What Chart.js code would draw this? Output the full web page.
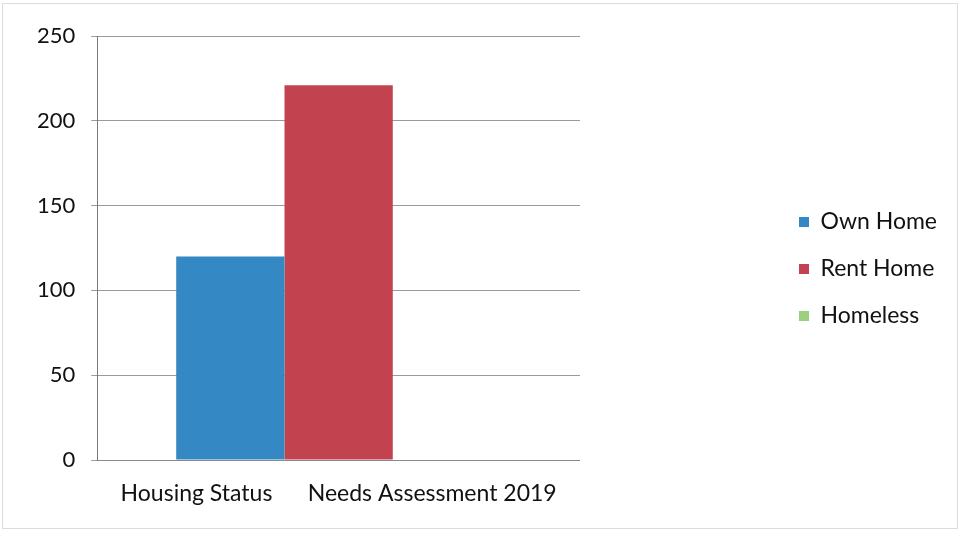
<!DOCTYPE html>
<html>
<head>
<meta charset="utf-8">
<script src="https://cdn.jsdelivr.net/npm/chart.js@4"></script>
<style>
  html, body { margin: 0; padding: 0; background: #fff; }
  #wrap { position: relative; width: 961px; height: 533px; }
  #frame { position: absolute; left: 2px; top: 3px; right: 3px; bottom: 4px; border: 1px solid #dcdcdc; pointer-events: none; }
</style>
</head>
<body>
<div id="wrap">
  <canvas id="barChart" width="961" height="533"></canvas>
  <div id="frame"></div>
</div>
<script>
const categories = ['Housing Status      Needs Assessment 2019'];
const seriesNames = ['Own Home', 'Rent Home', 'Homeless'];
const ownHome = [120];
const rentHome = [221];
const homeless = [0];
const yMax = 250;
const yStep = 50;

const colors = ['#3488c3', '#c2434f', '#9dcf7f'];
const tickFont = { family: 'Lato', size: 22 };
const labelFont = { family: 'Lato', size: 23 };

function draw() {
    const ctx = document.getElementById('barChart').getContext('2d');

    new Chart(ctx, {
        type: 'bar',
        data: {
            labels: categories,
            datasets: [ownHome, rentHome, homeless].map(function(values, i) {
                return {
                    label: seriesNames[i],
                    data: values,
                    backgroundColor: colors[i],
                    barPercentage: 1.0,
                    categoryPercentage: 0.673
                };
            })
        },
        options: {
            responsive: false,
            animation: false,
            layout: {
                padding: { top: 26, left: 21, bottom: 21, right: 14 }
            },
            plugins: {
                legend: {
                    position: 'right',
                    labels: {
                        boxWidth: 10,
                        boxHeight: 10,
                        padding: 24,
                        color: '#111',
                        font: labelFont
                    }
                },
                tooltip: { enabled: false }
            },
            scales: {
                x: {
                    grid: { display: false },
                    border: { display: true, color: '#8a8a8a' },
                    ticks: {
                        color: '#111',
                        font: labelFont,
                        padding: 12,
                        maxRotation: 0
                    },
                    afterFit: function(scale) {
                        scale.height = 52;
                    }
                },
                y: {
                    min: 0,
                    max: yMax,
                    border: { display: true, color: '#7a7a7a' },
                    grid: { color: '#9a9a9a', tickLength: 6 },
                    ticks: {
                        stepSize: yStep,
                        color: '#111',
                        font: tickFont,
                        padding: 16
                    }
                },
                // hidden spacer axes keep the gaps around the plot
                spacerTop: {
                    type: 'linear',
                    axis: 'x',
                    position: 'top',
                    display: false,
                    afterFit: function(scale) {
                        scale.height = 10;
                    }
                },
                spacer: {
                    type: 'linear',
                    axis: 'y',
                    position: 'right',
                    display: false,
                    afterFit: function(scale) {
                        scale.width = 195;
                    }
                }
            }
        }
    });
}

document.fonts.load('23px Lato').then(draw, draw);
</script>
</body>
</html>
